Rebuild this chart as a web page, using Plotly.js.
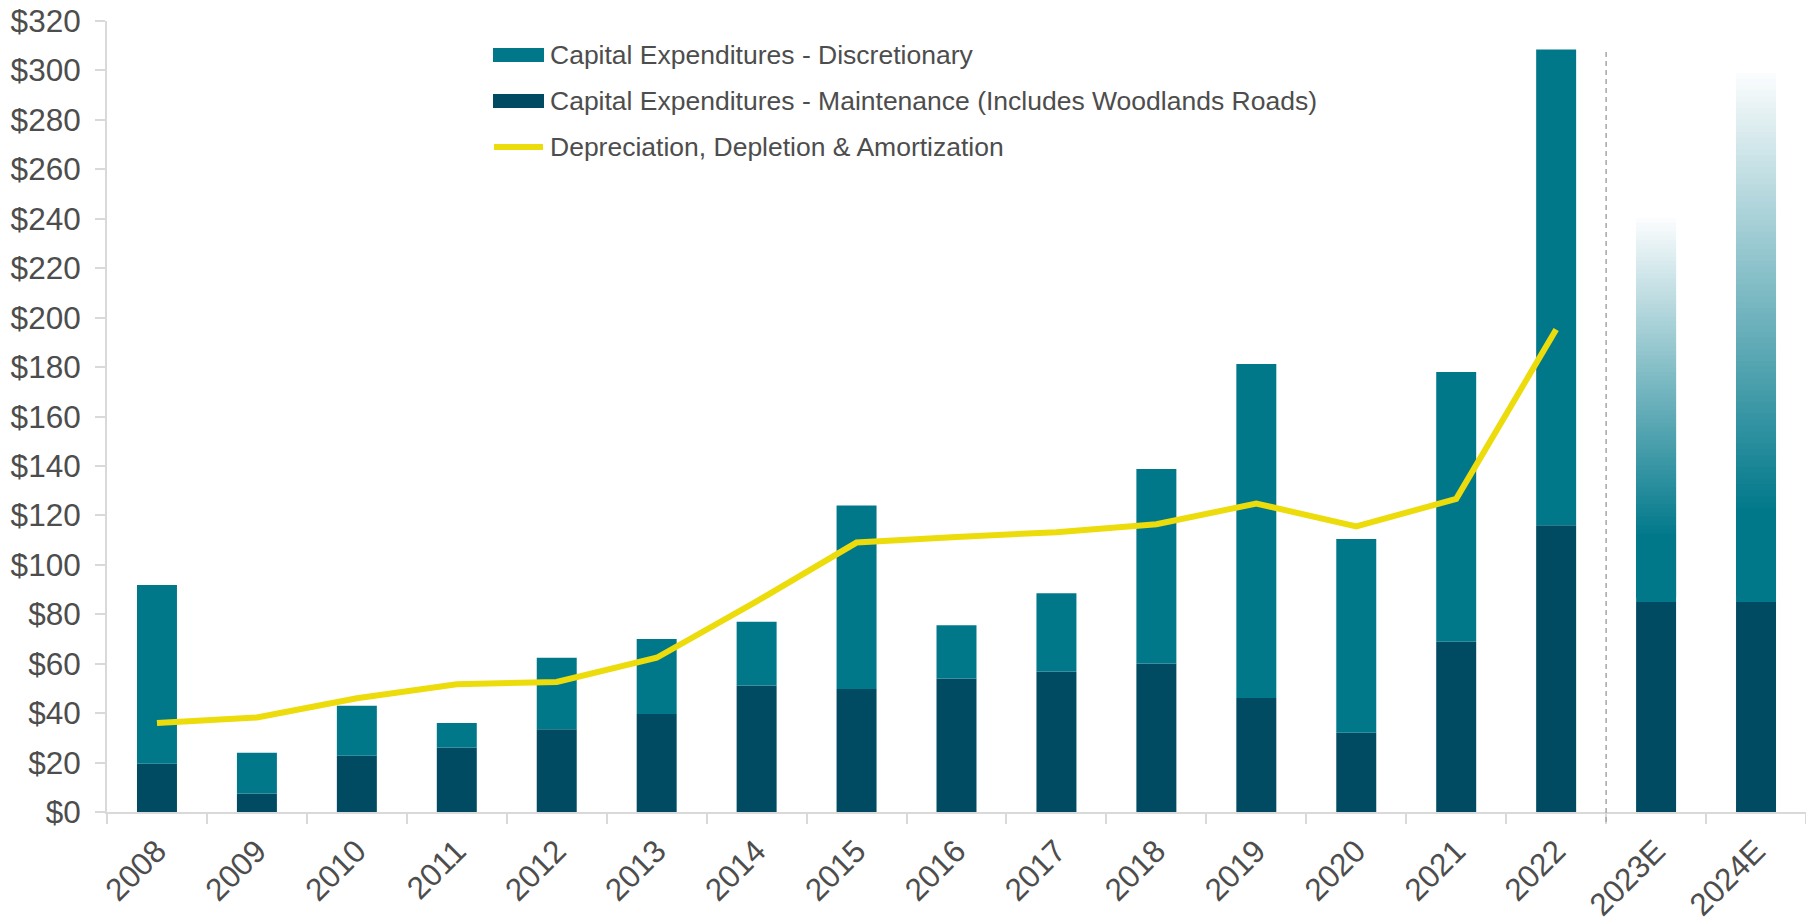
<!DOCTYPE html>
<html>
<head>
<meta charset="utf-8">
<script src="https://cdn.plot.ly/plotly-3.0.1.min.js"></script>
<style>html,body{margin:0;padding:0;background:#fff;}#chart{width:1806px;height:923px;}</style>
</head>
<body>
<div id="chart"></div>
<script>
// ---- Data (US$ millions) ----
const years = ['2008','2009','2010','2011','2012','2013','2014','2015','2016','2017','2018','2019','2020','2021','2022','2023E','2024E'];
const maintenance = [19.5, 7.5, 22.8, 26.1, 33.5, 39.6, 51.2, 49.8, 54.0, 56.8, 60.1, 46.1, 32.1, 68.9, 116.0, 85.0, 85.0];
const discretionary = [72.3, 16.5, 20.2, 9.9, 28.9, 30.4, 25.8, 74.2, 21.5, 31.7, 78.7, 135.1, 78.3, 109.1, 192.5, 155.0, 214.0];
const dda = [36.0, 38.2, 46.0, 51.7, 52.6, 62.4, 85.2, 109.0, 111.3, 113.2, 116.4, 124.8, 115.5, 126.7, 195.2, null, null];
const seriesNames = ['Capital Expenditures - Discretionary', 'Capital Expenditures - Maintenance (Includes Woodlands Roads)', 'Depreciation, Depletion & Amortization'];

// ---- Style ----
const C_DISC = '#00788A', C_MAINT = '#004A62', C_LINE = '#EDDC0B', C_AXIS = '#D9D9D9', C_TEXT = '#4D4D4D';
const TICK_FONT = {family: 'Liberation Sans, Arial, sans-serif', size: 31.5, color: C_TEXT};
const LEG_FONT = {family: 'Liberation Sans, Arial, sans-serif', size: 26.5, color: C_TEXT};
const BAR_W = 0.4;
const W = 1806, H = 923, M = {l: 107, r: 0, t: 21, b: 111};

const isEst = years.map(y => /E$/.test(y));

// Actual discretionary bars (estimates drawn as gradient below)
const discActual = discretionary.map((v, i) => isEst[i] ? null : v);

// Gradient for estimate years: thin slices, each overlapping the next one slightly
const N = 90, SOLID = 0.17;
const teal = [0, 120, 138], white = [252, 253, 254];
const gx = [], gy = [], gb = [], gc = [];
years.forEach((yr, i) => {
  if (!isEst[i]) return;
  const step = discretionary[i] / N;
  for (let k = 0; k < N; k++) {
    const t = (k + 0.5) / N;
    const u = t <= SOLID ? 0 : (t - SOLID) / (1 - SOLID);
    const c = teal.map((a, j) => Math.round(a + (white[j] - a) * u));
    const h = Math.min(2 * step, discretionary[i] - k * step);
    gx.push(yr); gb.push(maintenance[i] + k * step); gy.push(h);
    gc.push('rgb(' + c.join(',') + ')');
  }
});

const traces = [
  {type: 'bar', name: seriesNames[1], x: years, y: maintenance, base: 0, width: BAR_W,
   marker: {color: C_MAINT, line: {width: 0}}, showlegend: false, hoverinfo: 'skip'},
  {type: 'bar', name: seriesNames[0], x: years, y: discActual, base: maintenance, width: BAR_W,
   marker: {color: C_DISC, line: {width: 0}}, showlegend: false, hoverinfo: 'skip'},
  {type: 'bar', name: seriesNames[0] + ' (estimate)', x: gx, y: gy, base: gb, width: BAR_W,
   marker: {color: gc, line: {width: 0}}, showlegend: false, hoverinfo: 'skip'},
  {type: 'scatter', mode: 'lines', name: seriesNames[2], x: years, y: dda,
   line: {color: C_LINE, width: 6}, showlegend: false, hoverinfo: 'skip'}
];

// pixel -> paper helpers for the hand-made legend & separator
const pw = W - M.l - M.r, ph = H - M.t - M.b;
const px = v => (v - M.l) / pw;
const py = v => (H - M.b - v) / ph;

const legendRows = [
  {name: seriesNames[0], color: C_DISC, kind: 'rect', yc: 55},
  {name: seriesNames[1], color: C_MAINT, kind: 'rect', yc: 101},
  {name: seriesNames[2], color: C_LINE, kind: 'line', yc: 147}
];
const shapes = [
  {type: 'line', xref: 'x', yref: 'paper', x0: 14.5, x1: 14.5, y0: py(822), y1: py(48),
   line: {color: '#A6A6A6', width: 1.5, dash: '5px,4px'}}
];
const annotations = [];
legendRows.forEach(r => {
  if (r.kind === 'rect') {
    shapes.push({type: 'rect', xref: 'paper', yref: 'paper', x0: px(493), x1: px(544),
      y0: py(r.yc + 7), y1: py(r.yc - 7), fillcolor: r.color, line: {width: 0}});
  } else {
    shapes.push({type: 'line', xref: 'paper', yref: 'paper', x0: px(494), x1: px(543),
      y0: py(r.yc), y1: py(r.yc), line: {color: r.color, width: 6}});
  }
  annotations.push({xref: 'paper', yref: 'paper', x: px(548), y: py(r.yc), xanchor: 'left', yanchor: 'middle',
    text: r.name, showarrow: false, font: LEG_FONT});
});

const layout = {
  width: W, height: H, margin: M,
  paper_bgcolor: '#fff', plot_bgcolor: '#fff',
  barmode: 'overlay', showlegend: false,
  xaxis: {type: 'category', range: [-0.5, 16.5], showgrid: false, zeroline: false,
    showline: true, linecolor: C_AXIS, linewidth: 2,
    ticks: 'outside', tickson: 'boundaries', ticklen: 10, tickcolor: C_AXIS, tickwidth: 2,
    tickangle: -45, tickfont: TICK_FONT, ticklabelstandoff: 6, fixedrange: true},
  yaxis: {range: [0, 320], dtick: 20, tick0: 0, tickprefix: '$', showgrid: false, zeroline: false,
    showline: true, linecolor: C_AXIS, linewidth: 2,
    ticks: 'outside', ticklen: 10, tickcolor: C_AXIS, tickwidth: 2,
    tickfont: TICK_FONT, ticklabelstandoff: 8, fixedrange: true},
  shapes: shapes, annotations: annotations
};

Plotly.newPlot('chart', traces, layout, {displayModeBar: false, staticPlot: true});
</script>
</body>
</html>
